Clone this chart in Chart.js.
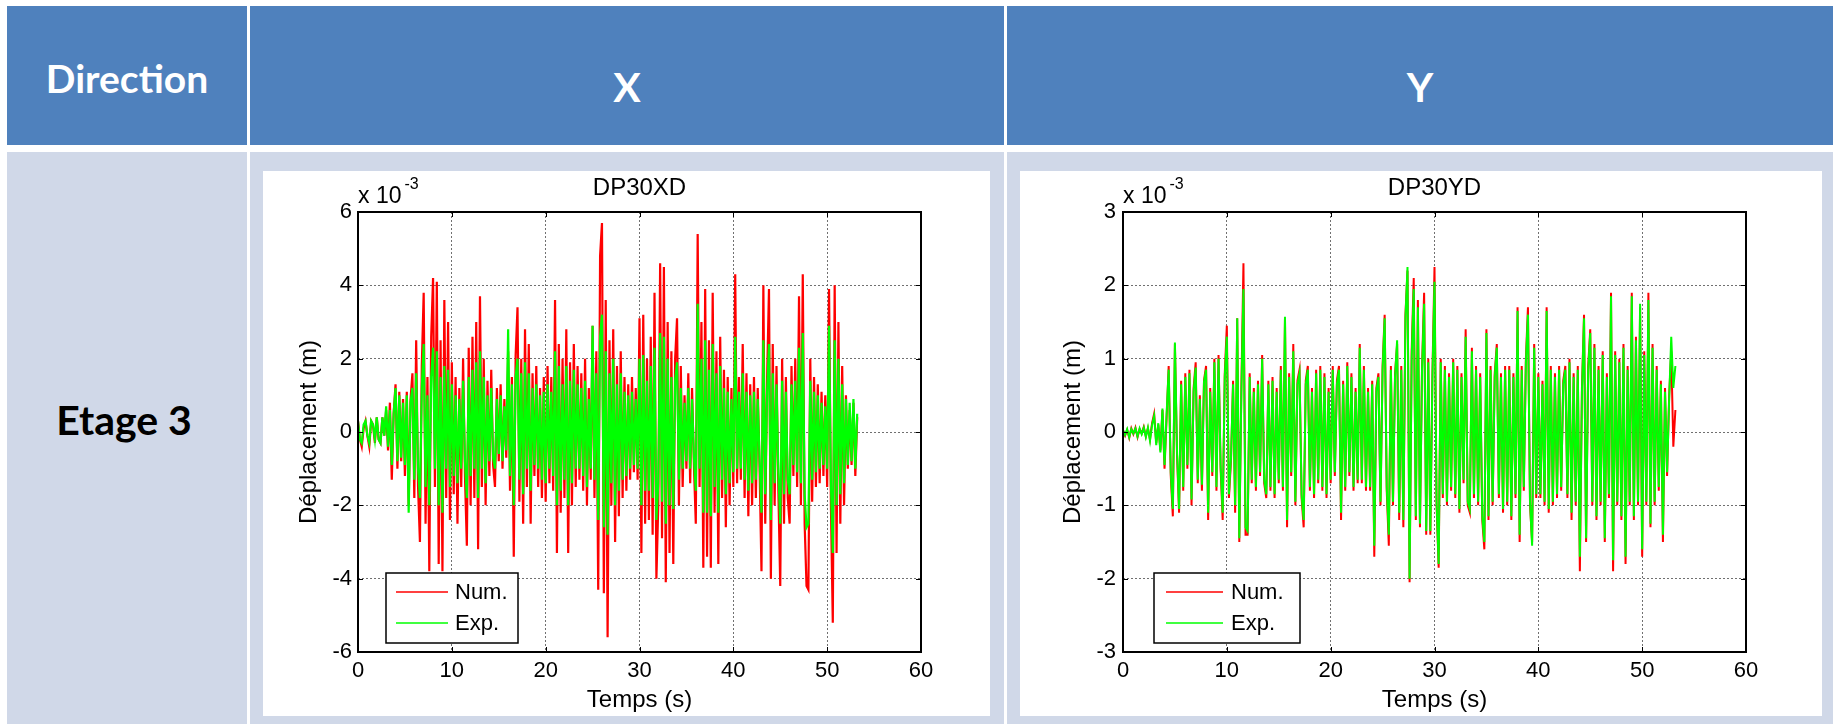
<!DOCTYPE html>
<html><head><meta charset="utf-8">
<script src="https://cdn.jsdelivr.net/npm/chart.js"></script>
<style>
html,body{margin:0;padding:0;background:#fff;width:1833px;height:724px;overflow:hidden;position:relative;}
.cell{position:absolute;}
.hdr{background:#4F81BD;}
.bdy{background:#D0D8E8;}
.txt{position:absolute;font-family:Lato,'Open Sans',sans-serif;font-weight:700;white-space:nowrap;transform:translate(-50%,-50%);line-height:1;}
canvas{position:absolute;background:#fff;}
</style></head>
<body>
<div class="cell hdr" style="left:7px;top:6px;width:240px;height:139px"></div>
<div class="cell hdr" style="left:250px;top:6px;width:754px;height:139px"></div>
<div class="cell hdr" style="left:1007px;top:6px;width:826px;height:139px"></div>
<div class="cell bdy" style="left:7px;top:152px;width:240px;height:572px"></div>
<div class="cell bdy" style="left:250px;top:152px;width:754px;height:572px"></div>
<div class="cell bdy" style="left:1007px;top:152px;width:826px;height:572px"></div>
<div class="txt" style="left:127px;top:78px;font-size:39px;color:#fff">Direction</div>
<div class="txt" style="left:627px;top:86px;font-size:41px;color:#fff">X</div>
<div class="txt" style="left:1420px;top:86px;font-size:41px;color:#fff">Y</div>
<div class="txt" style="left:124px;top:419px;font-size:41px;color:#000">Etage 3</div>
<canvas id="cx" width="727" height="545" style="left:263px;top:171px"></canvas>
<canvas id="cy" width="802" height="545" style="left:1020px;top:171px"></canvas>
<script>
// ---- data (displacement in 1e-3 m), sampled every 0.2 s from 0 to 53.2 s ----
const timeStep = 0.2;
const xTicksS = [0, 10, 20, 30, 40, 50, 60];
const yTicksX = [-6, -4, -2, 0, 2, 4, 6];
const yTicksY = [-3, -2, -1, 0, 1, 2, 3];
const seriesNames = ['Num.', 'Exp.'];

const numX = [
 0.3,-0.2,-0.4,0.1,0.3, -0.1,-0.4,0.3,0.2,-0.3, 0.4,-0.2,-0.3,0.4,-0.1, 0.6,-0.5,0.8,-1.3,0.5,
 1.3,-1.0,1.1,-0.8,0.9, -1.2,1.1,-2.0,0.9,1.6, -1.8,2.5,-1.5,-3.0,1.8, 3.8,-2.5,1.5,-3.8,2.6,
 4.2,-1.5,4.1,-3.6,2.5, -3.8,3.6,-1.8,3.0,-2.4, 1.9,-1.7,1.5,-2.5,1.2, -1.5,2.0,-1.2,-3.1,2.3,
 -2.0,2.6,-1.8,3.0,-3.2, 3.7,-1.5,2.0,-2.0,1.4, -1.2,1.7,-0.9,-1.5,1.2, -0.8,1.3,-1.0,0.9,-0.7,
 2.2,-1.6,1.5,-3.4,2.1, 3.4,-1.9,2.0,-2.5,2.8, -1.5,2.4,-2.5,1.6,-1.2, 1.8,-1.5,1.2,-1.8,1.5,
 -1.9,1.8,-1.4,1.5,-1.6, 3.6,-3.3,2.4,-2.2,2.0, -1.8,2.8,-3.3,1.9,-2.0, 2.4,-1.5,1.8,-1.3,1.6,
 -1.6,2.0,-2.0,1.2,-1.3, 2.9,-1.8,2.2,-4.3,4.8, 5.7,-4.4,3.6,-5.6,2.5, -2.0,2.8,-3.0,1.8,-2.3,
 2.2,-1.8,1.5,-1.6,1.3, -1.3,1.5,-1.1,1.2,-1.3, 3.1,-3.3,3.2,-2.5,2.0, -2.4,2.6,-2.8,3.8,-4.0,
 -2.0,4.6,-2.9,4.5,-4.1, 3.0,-3.3,2.2,-3.6,2.0, 3.1,-2.0,1.8,-1.5,1.0, -1.0,1.6,-1.4,1.2,-0.9,
 -2.5,5.4,-1.5,3.0,-3.7, 3.9,-3.4,2.5,-3.7,3.8, -2.2,2.2,-3.6,2.6,-1.8, 1.7,-2.6,1.5,-2.0,1.2,
 -1.5,4.3,-1.4,1.5,-1.3, 2.4,-1.8,1.6,-2.3,1.3, -2.0,1.5,-1.8,1.2,-1.0, -3.8,4.0,-2.5,1.5,3.9,
 -4.0,2.4,-2.0,1.8,-1.6, -4.2,2.0,-2.5,1.5,-1.8, -2.5,1.8,-1.2,2.0,-1.5, 3.7,-2.0,4.3,-2.5,-4.2,
 -4.3,2.0,-1.9,1.5,-1.5, 1.3,-1.4,1.1,-1.2,1.0, -1.5,3.9,-2.0,-5.2,4.0, -3.3,3.0,-2.5,1.8,-2.0,
 1.0,-1.0,0.6,-0.9,0.8, -1.2,0.4
];
const expX = [
 0.3,-0.2,-0.3,0.2,0.3, -0.1,-0.3,0.3,0.2,-0.2, 0.4,-0.2,-0.3,0.4,-0.1, 0.7,-0.4,0.6,-0.9,0.5,
 1.2,-0.8,1.0,-0.7,0.8, -0.9,1.0,-2.2,0.8,1.2, -1.3,1.6,-1.0,-1.8,1.2, 2.4,-1.5,1.0,-2.0,1.5,
 2.3,-1.0,2.2,-2.0,1.5, -2.2,1.8,-1.0,1.7,-1.5, 1.3,-1.2,1.0,-1.4,0.9, -1.0,1.4,-0.8,-1.8,1.5,
 -1.2,1.7,-1.0,1.9,-1.8, 2.2,-1.0,1.5,-1.4,1.0, -0.8,1.2,-0.7,-1.0,0.9, -0.6,1.0,-0.8,0.7,-0.5,
 2.8,-1.2,1.3,-2.0,1.5, 2.0,-1.3,1.6,-1.7,1.9, -1.0,1.6,-1.6,1.2,-0.9, 1.3,-1.0,1.0,-1.3,1.1,
 -1.4,1.3,-1.0,1.1,-1.2, 2.2,-2.0,1.8,-1.6,1.3, -1.3,1.8,-2.0,1.4,-1.4, 1.7,-1.0,1.3,-1.0,1.2,
 -1.2,1.4,-1.5,0.9,-1.0, 2.9,-1.3,1.6,-2.4,2.6, 3.2,-2.6,2.2,-2.8,1.6, -1.4,2.0,-2.0,1.3,-1.6,
 1.6,-1.3,1.1,-1.2,1.0, -1.0,1.1,-0.9,0.9,-1.0, 2.0,-2.0,2.1,-1.6,1.4, -1.6,1.8,-1.8,2.3,-2.4,
 -1.4,2.7,-1.9,2.6,-2.5, 2.0,-2.0,1.5,-2.1,1.4, 1.9,-1.3,1.2,-1.0,0.8, -0.8,1.2,-1.0,0.9,-0.7,
 -1.6,3.5,-1.0,2.0,-2.2, 2.5,-2.2,1.7,-2.3,2.4, -1.5,1.6,-2.2,1.8,-1.3, 1.2,-1.7,1.1,-1.4,0.9,
 -1.1,2.6,-1.0,1.1,-1.0, 1.6,-1.3,1.1,-1.6,1.0, -1.4,1.1,-1.3,0.9,-0.8, -2.2,2.5,-1.7,1.1,2.4,
 -2.4,1.6,-1.4,1.3,-1.1, -2.5,1.4,-1.7,1.1,-1.3, -1.7,1.3,-0.9,1.4,-1.1, 2.3,-1.4,2.7,-1.7,-2.6,
 -2.5,1.4,-1.3,1.1,-1.1, 1.0,-1.0,0.8,-0.9,0.7, -1.0,2.9,-1.4,-3.3,2.5, -2.0,2.0,-1.7,1.3,-1.4,
 0.9,-0.9,0.8,-0.8,0.9, -1.0,0.5
];
const numY = [
 0.02,-0.05,0.03,-0.08,0.05, -0.03,0.06,-0.07,0.04,-0.02, 0.07,-0.06,0.05,-0.1,0.12, 0.25,-0.15,0.1,-0.25,0.3,
 -0.5,0.2,0.9,-0.6,-1.15, 1.2,-0.3,-1.1,0.7,-0.8, 0.8,-0.5,0.85,-1.0,0.6, 0.95,-0.7,0.5,-0.8,0.7,
 0.9,-1.2,0.6,-0.6,1.0, -0.8,1.05,-0.5,-1.2,0.8, 1.45,-0.9,-0.4,0.7,-1.1, 1.55,-1.5,0.6,2.3,-1.4,
 -1.4,0.8,-0.7,0.6,-0.8, 0.7,-0.6,1.05,-0.7,-0.9, 0.7,-0.8,0.75,-0.9,0.6, -0.7,0.9,-0.8,1.55,-1.3,
 0.8,-0.6,1.2,-1.0,0.7, 0.85,-0.9,-1.3,0.7,0.9, -0.8,0.6,-0.9,0.85,-0.7, 0.9,-0.8,0.8,-0.9,0.6,
 -0.7,0.9,-0.6,0.7,0.9, -1.2,0.7,-0.8,0.95,-0.6, 0.8,-0.8,0.6,-0.7,1.2, -0.7,0.9,-0.8,0.6,-0.8,
 0.7,-1.7,0.6,0.8,-1.0, 0.9,1.6,-0.8,-1.55,0.9, -1.0,0.8,1.2,-1.2,0.9, -1.3,1.6,2.2,-2.05,1.1,
 2.1,-1.2,1.8,-1.3,0.9, 1.9,-1.4,1.0,-1.4,0.8, 2.25,-1.0,-1.85,1.0,-0.9, 0.9,-1.0,0.8,-0.8,1.0,
 -0.9,0.9,-1.1,0.8,-0.7, 1.4,-1.0,-1.1,1.15,-0.9, 0.9,-1.0,0.8,-1.2,-1.6, 1.4,-1.2,0.9,-1.0,0.8,
 1.2,-0.9,0.8,-1.1,0.9, -1.0,0.9,-1.2,0.8,-0.9, 1.7,-1.5,0.9,-0.8,1.0, 1.7,-1.0,-1.5,1.2,-0.9,
 0.8,-0.9,0.7,-1.0,1.7, -1.1,0.9,-1.0,0.8,-0.9, 0.9,-0.8,0.7,0.9,-0.9, 1.0,-1.2,0.8,-1.0,0.9,
 -1.9,0.6,1.6,-1.5,0.9, 1.4,-1.0,1.2,-1.2,0.9, -1.0,1.1,-1.5,0.8,-0.9, 1.9,-1.9,1.1,-1.0,1.0,
 -1.2,1.2,-1.8,0.9,-1.0, 1.9,-1.2,1.3,-1.0,1.7, -1.7,1.1,-1.0,1.9,-1.3, 1.2,-1.0,0.9,-0.8,0.7,
 -1.5,0.6,-0.6,0.5,1.1, -0.2,0.3
];
const expY = [
 0.03,-0.04,0.04,-0.07,0.04, -0.02,0.05,-0.06,0.05,-0.03, 0.06,-0.07,0.06,-0.12,0.1, 0.22,-0.18,0.12,-0.28,0.32,
 -0.45,0.25,0.85,-0.55,-1.05, 1.22,-0.25,-1.05,0.65,-0.75, 0.75,-0.45,0.8,-0.92,0.55, 0.88,-0.65,0.45,-0.72,0.68,
 0.85,-1.1,0.55,-0.55,0.95, -0.75,1.0,-0.45,-1.1,0.75, 1.3,-0.85,-0.35,0.65,-1.0, 1.55,-1.45,0.55,1.95,-1.3,
 -1.35,0.75,-0.65,0.55,-0.75, 0.65,-0.55,1.0,-0.65,-0.85, 0.65,-0.75,0.7,-0.85,0.55, -0.65,0.85,-0.75,1.57,-1.2,
 0.75,-0.55,1.1,-0.95,0.65, 0.8,-0.85,-1.2,0.65,0.85, -0.75,0.55,-0.85,0.8,-0.65, 0.85,-0.75,0.75,-0.85,0.55,
 -0.65,0.85,-0.55,0.65,0.85, -1.1,0.65,-0.75,0.9,-0.55, 0.75,-0.75,0.55,-0.65,1.15, -0.65,0.85,-0.75,0.55,-0.75,
 0.65,-1.55,0.55,0.75,-0.95, 0.85,1.55,-0.75,-1.4,0.85, -0.95,0.75,1.25,-1.1,0.85, -1.2,1.55,2.25,-2.0,1.0,
 1.95,-1.15,1.7,-1.25,0.85, 1.75,-1.35,0.95,-1.35,0.75, 2.05,-0.95,-1.8,0.95,-0.85, 0.85,-0.95,0.75,-0.75,0.95,
 -0.85,0.85,-1.05,0.75,-0.65, 1.3,-0.95,-1.05,1.1,-0.85, 0.85,-0.95,0.75,-1.15,-1.5, 1.35,-1.15,0.85,-0.95,0.75,
 1.15,-0.85,0.75,-1.05,0.85, -0.95,0.85,-1.15,0.75,-0.85, 1.65,-1.4,0.85,-0.75,0.95, 1.6,-0.95,-1.55,1.15,-0.85,
 0.75,-0.85,0.65,-0.95,1.65, -1.05,0.85,-0.95,0.75,-0.85, 0.85,-0.75,0.65,0.85,-0.85, 0.95,-1.1,0.75,-0.95,0.85,
 -1.7,0.55,1.55,-1.45,0.85, 1.35,-0.95,1.15,-1.15,0.85, -0.95,1.05,-1.45,0.75,-0.85, 1.85,-1.75,1.05,-0.95,0.95,
 -1.15,1.15,-1.7,0.85,-0.95, 1.85,-1.15,1.25,-0.95,1.75, -1.6,1.05,-0.95,1.8,-1.25, 1.15,-0.95,0.85,-0.75,0.65,
 -1.4,0.55,-0.55,0.45,1.3, 0.6,0.9
];

const FONT = '"Liberation Sans", Arial, Helvetica, sans-serif';

const matlabFrame = {
  id: 'matlabFrame',
  afterDraw(chart, args, o) {
    const ctx = chart.ctx, a = chart.chartArea;
    const xs = chart.scales.x, ys = chart.scales.y;
    ctx.save();
    ctx.strokeStyle = '#000';
    ctx.lineWidth = 1;
    ctx.beginPath();
    xs.ticks.forEach(t => {
      const px = Math.round(xs.getPixelForValue(t.value)) + 0.5;
      ctx.moveTo(px, a.bottom); ctx.lineTo(px, a.bottom - 5);
      ctx.moveTo(px, a.top); ctx.lineTo(px, a.top + 5);
    });
    ys.ticks.forEach(t => {
      const py = Math.round(ys.getPixelForValue(t.value)) + 0.5;
      ctx.moveTo(a.left, py); ctx.lineTo(a.left + 5, py);
      ctx.moveTo(a.right, py); ctx.lineTo(a.right - 5, py);
    });
    ctx.stroke();
    ctx.lineWidth = 2;
    ctx.strokeRect(a.left, a.top, a.right - a.left, a.bottom - a.top);

    ctx.fillStyle = '#000';
    ctx.textBaseline = 'alphabetic';
    const cx = (a.left + a.right) / 2;
    ctx.font = '24px ' + FONT;
    ctx.textAlign = 'center';
    ctx.fillText(o.title, cx, o.titleY);
    ctx.fillText(o.xTitle, cx, o.xTitleY);
    // exponent
    ctx.textAlign = 'left';
    ctx.font = '23px ' + FONT;
    const base = 'x 10';
    ctx.fillText(base, a.left, o.expY);
    const w = ctx.measureText(base).width;
    ctx.font = '16px ' + FONT;
    ctx.fillText('-3', a.left + w + 3, o.expY - 14);
    // y title
    ctx.save();
    ctx.font = '24px ' + FONT;
    ctx.textAlign = 'center';
    ctx.translate(o.yTitleX, (a.top + a.bottom) / 2);
    ctx.rotate(-Math.PI / 2);
    ctx.fillText(o.yTitle, 0, 0);
    ctx.restore();
    // legend
    const L = o.legend;
    ctx.fillStyle = '#fff';
    ctx.fillRect(L.x, L.y, L.w, L.h);
    ctx.lineWidth = 1.5;
    ctx.strokeStyle = '#000';
    ctx.strokeRect(L.x, L.y, L.w, L.h);
    ctx.font = '22px ' + FONT;
    ctx.textBaseline = 'middle';
    chart.data.datasets.forEach((ds, i) => {
      const yy = L.rows[i];
      ctx.strokeStyle = ds.borderColor;
      ctx.lineWidth = 1.5;
      ctx.beginPath(); ctx.moveTo(L.l0, yy); ctx.lineTo(L.l1, yy); ctx.stroke();
      ctx.fillStyle = '#000';
      ctx.fillText(ds.label, L.tx, yy + 1);
    });
    ctx.restore();
  }
};

function makeChart(id, num, exp, yTicks, pad, frame) {
  const times = num.map((_, i) => +(i * timeStep).toFixed(1));
  const toPts = arr => arr.map((v, i) => ({ x: times[i], y: v }));
  return new Chart(document.getElementById(id), {
    type: 'line',
    data: {
      datasets: [
        { label: seriesNames[0], data: toPts(num), borderColor: '#ff0000', borderWidth: pad.lw, pointRadius: 0, tension: 0, order: 1 },
        { label: seriesNames[1], data: toPts(exp), borderColor: '#00ff00', borderWidth: pad.lw, pointRadius: 0, tension: 0, order: 0 }
      ]
    },
    options: {
      responsive: false, animation: false, devicePixelRatio: 1,
      layout: { autoPadding: false, padding: { top: 41, right: pad.right, left: 0, bottom: 0 } },
      plugins: { legend: { display: false }, tooltip: { enabled: false }, title: { display: false }, matlabFrame: frame },
      scales: {
        x: {
          type: 'linear', min: xTicksS[0], max: xTicksS[xTicksS.length - 1],
          afterBuildTicks: s => { s.ticks = xTicksS.map(v => ({ value: v })); },
          afterFit: s => { s.height = 64; },
          ticks: { color: '#000', font: { family: FONT, size: 22 }, padding: 6, maxRotation: 0, callback: v => String(v) },
          grid: { color: '#707070', lineWidth: 1, drawTicks: false },
          border: { display: false, dash: [2, 2] }
        },
        y: {
          min: yTicks[0], max: yTicks[yTicks.length - 1],
          afterBuildTicks: s => { s.ticks = yTicks.map(v => ({ value: v })); },
          afterFit: s => { s.width = pad.left; },
          ticks: { color: '#000', font: { family: FONT, size: 22 }, padding: pad.tickPad, callback: v => String(v) },
          grid: { color: '#707070', lineWidth: 1, drawTicks: false },
          border: { display: false, dash: [2, 2] }
        }
      }
    },
    plugins: [matlabFrame]
  });
}

makeChart('cx', numX, expX, yTicksX, { left: 95, right: 69, tickPad: 6, lw: 2.2 }, {
  title: 'DP30XD', titleY: 24, xTitle: 'Temps (s)', xTitleY: 536, yTitle: 'Déplacement (m)', yTitleX: 53, expY: 32,
  legend: { x: 123, y: 402, w: 132, h: 70, l0: 133, l1: 185, tx: 192, rows: [421, 452] }
});
makeChart('cy', numY, expY, yTicksY, { left: 103, right: 76, tickPad: 7, lw: 2 }, {
  title: 'DP30YD', titleY: 24, xTitle: 'Temps (s)', xTitleY: 536, yTitle: 'Déplacement (m)', yTitleX: 60, expY: 32,
  legend: { x: 134, y: 402, w: 146, h: 70, l0: 146, l1: 203, tx: 211, rows: [421, 452] }
});
</script>
</body></html>
